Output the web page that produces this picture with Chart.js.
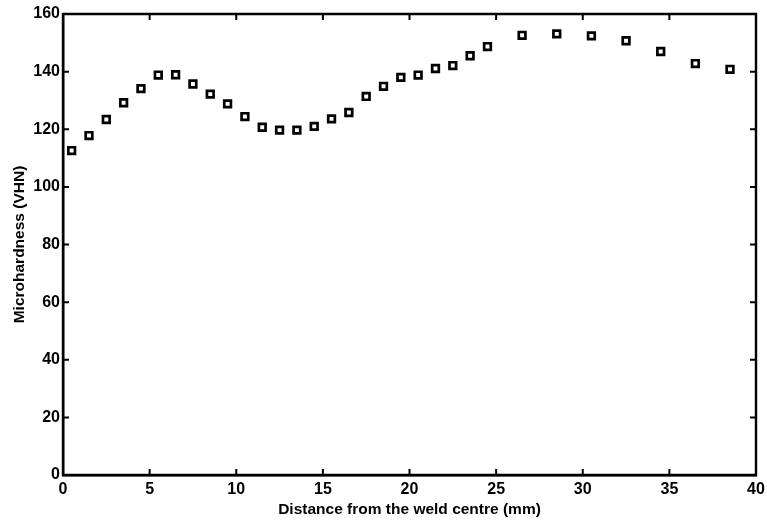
<!DOCTYPE html>
<html>
<head>
<meta charset="utf-8">
<script src="https://cdn.jsdelivr.net/npm/chart.js@4/dist/chart.umd.min.js"></script>
<style>
  html, body { margin: 0; padding: 0; background: #ffffff; }
  #wrap { width: 767px; height: 523px; }
</style>
</head>
<body>
<div id="wrap"><canvas id="c" width="767" height="523"></canvas></div>
<script>
// Data
const distanceMm = [0.5, 1.5, 2.5, 3.5, 4.5, 5.5, 6.5, 7.5, 8.5, 9.5, 10.5, 11.5, 12.5, 13.5, 14.5, 15.5, 16.5, 17.5, 18.5, 19.5, 20.5, 21.5, 22.5, 23.5, 24.5, 26.5, 28.5, 30.5, 32.5, 34.5, 36.5, 38.5];
const hardnessVHN = [112.6, 117.8, 123.4, 129.2, 134.1, 138.8, 138.9, 135.7, 132.2, 128.8, 124.4, 120.7, 119.7, 119.7, 121.0, 123.6, 125.8, 131.4, 134.9, 138.0, 138.8, 141.1, 142.1, 145.5, 148.7, 152.6, 153.1, 152.4, 150.7, 147.0, 142.8, 140.8];
const xTickValues = [0, 5, 10, 15, 20, 25, 30, 35, 40];
const yTickValues = [0, 20, 40, 60, 80, 100, 120, 140, 160];
const xTitle = 'Distance from the weld centre (mm)';
const yTitle = 'Microhardness (VHN)';

const points = distanceMm.map((x, i) => ({ x: x, y: hardnessVHN[i] }));

const FONT = "'Liberation Sans', Arial, Helvetica, sans-serif";

const boxAndTicks = {
  id: 'boxAndTicks',
  afterDatasetsDraw(chart) {
    const { ctx, chartArea: a, scales } = chart;
    const len = 6;
    ctx.save();
    ctx.strokeStyle = '#000';
    ctx.lineWidth = 2.4;
    ctx.beginPath();
    ctx.rect(a.left, a.top, a.right - a.left, a.bottom - a.top);
    ctx.stroke();
    ctx.lineWidth = 2;
    ctx.beginPath();
    xTickValues.forEach(v => {
      const px = scales.x.getPixelForValue(v);
      ctx.moveTo(px, a.bottom); ctx.lineTo(px, a.bottom - len);
      ctx.moveTo(px, a.top); ctx.lineTo(px, a.top + len);
    });
    yTickValues.forEach(v => {
      const py = scales.y.getPixelForValue(v);
      ctx.moveTo(a.left, py); ctx.lineTo(a.left + len, py);
      ctx.moveTo(a.right, py); ctx.lineTo(a.right - len, py);
    });
    ctx.stroke();
    ctx.restore();
  }
};

const bgPlugin = {
  id: 'bg',
  beforeDraw(chart) {
    const ctx = chart.ctx;
    ctx.save();
    ctx.fillStyle = '#ffffff';
    ctx.fillRect(0, 0, chart.width, chart.height);
    ctx.restore();
  }
};

new Chart(document.getElementById('c'), {
  type: 'scatter',
  data: {
    datasets: [{
      data: points,
      pointStyle: 'rect',
      pointRadius: 4.7,
      pointHoverRadius: 4.7,
      pointBorderWidth: 2.7,
      pointBorderColor: '#000',
      pointBackgroundColor: '#ffffff',
      showLine: false
    }]
  },
  options: {
    responsive: false,
    animation: false,
    devicePixelRatio: 1,
    layout: { padding: { top: 14, right: 11, left: 0, bottom: 0 } },
    plugins: { legend: { display: false }, tooltip: { enabled: false } },
    scales: {
      x: {
        type: 'linear',
        min: 0, max: 40,
        afterFit: s => { s.height = 48; s.paddingLeft = 0; s.paddingRight = 0; },
        afterBuildTicks: s => { s.ticks = xTickValues.map(v => ({ value: v })); },
        grid: { display: false, drawTicks: false },
        border: { display: true, color: '#000', width: 2.4 },
        ticks: { padding: 5, color: '#000', font: { family: FONT, size: 16, weight: 'bold' }, maxRotation: 0 },
        title: { display: true, text: xTitle, color: '#000', padding: { top: 0, bottom: 4 }, font: { family: FONT, size: 15.5, weight: 'bold' } }
      },
      y: {
        type: 'linear',
        min: 0, max: 160,
        afterFit: s => { s.width = 63; s.paddingTop = 0; s.paddingBottom = 0; },
        afterBuildTicks: s => { s.ticks = yTickValues.map(v => ({ value: v })); },
        grid: { display: false, drawTicks: false },
        border: { display: true, color: '#000', width: 2.4 },
        ticks: { padding: 3, color: '#000', font: { family: FONT, size: 16, weight: 'bold' } },
        title: { display: true, text: yTitle, color: '#000', padding: { top: 10, bottom: 0 }, font: { family: FONT, size: 15.5, weight: 'bold' } }
      }
    }
  },
  plugins: [bgPlugin, boxAndTicks]
});
</script>
</body>
</html>
